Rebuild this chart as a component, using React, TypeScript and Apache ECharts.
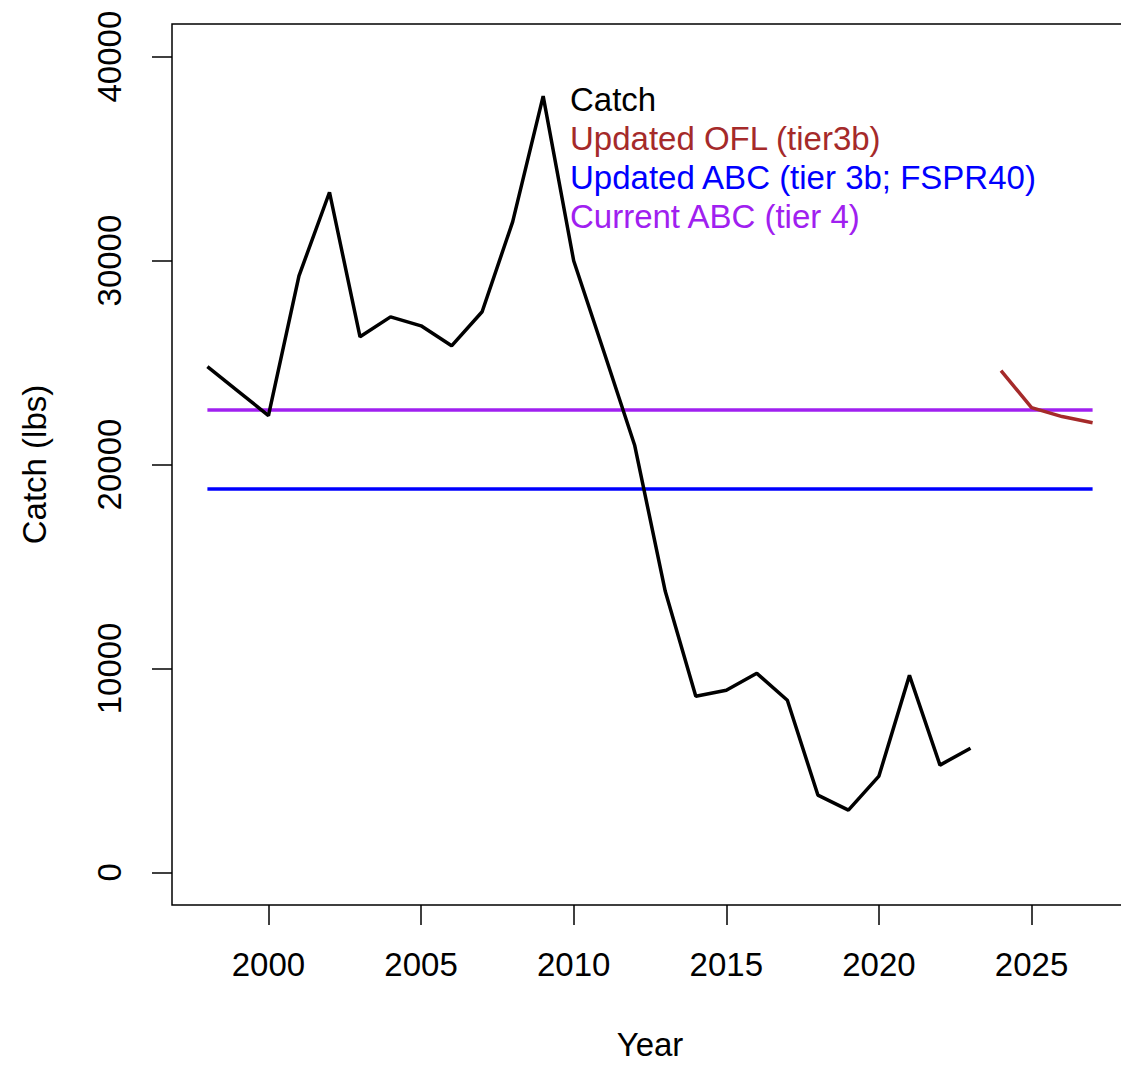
import React, { useEffect, useRef } from "react";
import * as echarts from "echarts";

const catchYears = [1998, 1999, 2000, 2001, 2002, 2003, 2004, 2005, 2006, 2007, 2008, 2009, 2010, 2011, 2012, 2013, 2014, 2015, 2016, 2017, 2018, 2019, 2020, 2021, 2022, 2023];
const catchValues = [24800, 23600, 22400, 29250, 33350, 26260, 27240, 26800, 25820, 27490, 31900, 38060, 29990, 25480, 20930, 13780, 8640, 8930, 9760, 8440, 3790, 3050, 4720, 9660, 5260, 6090];
const oflYears = [2024, 2025, 2026, 2027];
const oflValues = [24600, 22790, 22350, 22050];
const lineYears = [1998, 2027];
const updatedAbc = 18800;
const currentAbc = 22670;
const xTicks = [2000, 2005, 2010, 2015, 2020, 2025];
const yTicks = [0, 10000, 20000, 30000, 40000];
const legendNames = ["Catch", "Updated OFL (tier3b)", "Updated ABC (tier 3b; FSPR40)", "Current ABC (tier 4)"];
const legendColors = ["#000000", "#A52A2A", "#0000FF", "#A020F0"];

const FONT = "Liberation Sans, Arial, sans-serif";

export default function App() {
  const ref = useRef<HTMLDivElement>(null);
  useEffect(() => {
    document.body.style.margin = "0";
    document.body.style.overflow = "hidden";
    const chart = echarts.init(ref.current!, null, { renderer: "svg" });
    const pair = (xs: number[], ys: number[]) => xs.map((x, i) => [x, ys[i]]);
    chart.setOption({
      animation: false,
      backgroundColor: "#ffffff",
      grid: { left: 172, top: 24, right: 0, bottom: 159, show: true, borderColor: "#000", borderWidth: 1.5, backgroundColor: "transparent" },
      xAxis: {
        type: "value",
        min: 1996.84,
        max: 2028.16,
        name: "Year",
        nameLocation: "middle",
        nameGap: 123,
        nameTextStyle: { fontFamily: FONT, fontSize: 33, color: "#000" },
        axisLine: { show: false, onZero: false },
        splitLine: { show: false },
        axisTick: { show: true, customValues: xTicks, length: 20, lineStyle: { color: "#000", width: 1.5 } },
        axisLabel: { customValues: xTicks, fontFamily: FONT, fontSize: 33, color: "#000", margin: 43, formatter: (v: number) => String(v) },
      },
      yAxis: {
        type: "value",
        min: -1600,
        max: 41600,
        name: "Catch (lbs)",
        nameLocation: "middle",
        nameGap: 121,
        nameRotate: 90,
        nameTextStyle: { fontFamily: FONT, fontSize: 33, color: "#000" },
        axisLine: { show: false, onZero: false },
        splitLine: { show: false },
        axisTick: { show: true, customValues: yTicks, length: 20, lineStyle: { color: "#000", width: 1.5 } },
        axisLabel: { customValues: yTicks, rotate: 90, fontFamily: FONT, fontSize: 33, color: "#000", margin: 46, formatter: (v: number) => String(v) },
      },
      series: [
        { name: legendNames[3], type: "line", data: pair(lineYears, [currentAbc, currentAbc]), showSymbol: false, lineStyle: { color: legendColors[3], width: 3.5 }, z: 2 },
        { name: legendNames[2], type: "line", data: pair(lineYears, [updatedAbc, updatedAbc]), showSymbol: false, lineStyle: { color: legendColors[2], width: 3.5 }, z: 3 },
        { name: legendNames[1], type: "line", data: pair(oflYears, oflValues), showSymbol: false, lineStyle: { color: legendColors[1], width: 3.5 }, z: 4 },
        { name: legendNames[0], type: "line", data: pair(catchYears, catchValues), showSymbol: false, lineStyle: { color: legendColors[0], width: 3.5 }, z: 5 },
      ],
      graphic: legendNames.map((n, i) => ({
        type: "text",
        left: 570,
        top: 83 + i * 39,
        style: { text: n, fill: legendColors[i], font: `33px ${FONT}` },
      })),
    });
    return () => chart.dispose();
  }, []);
  return (
    <div style={{ width: 1121, height: 1066, overflow: "hidden", position: "relative" }}>
      <div ref={ref} style={{ width: 1128, height: 1066 }} />
    </div>
  );
}
